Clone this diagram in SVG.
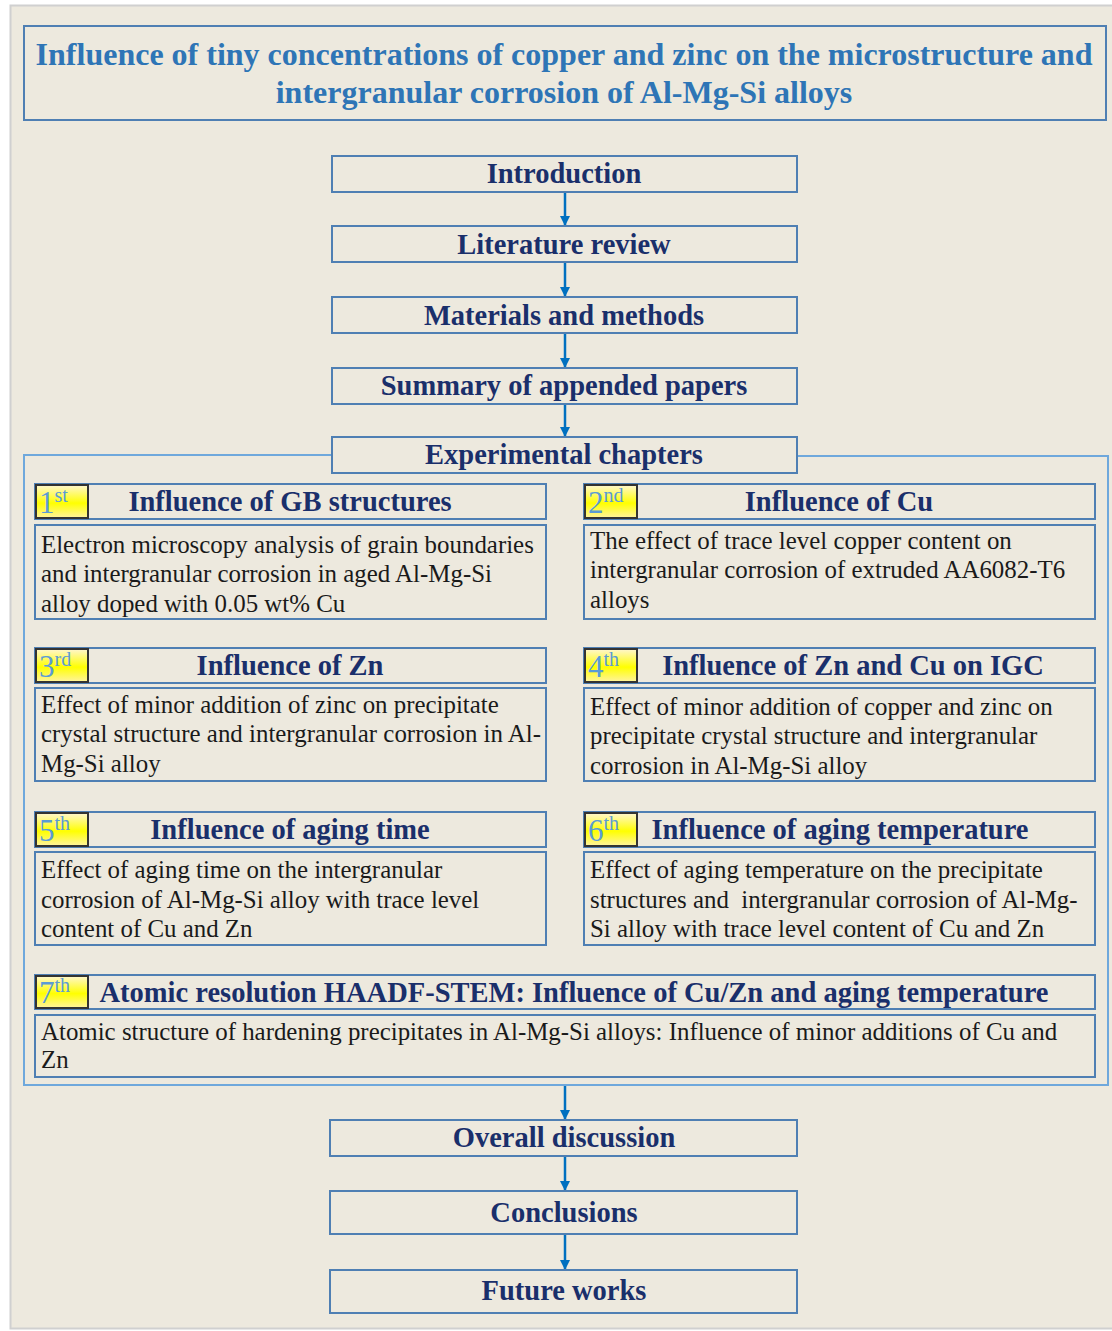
<svg xmlns="http://www.w3.org/2000/svg" width="1112" height="1331" viewBox="0 0 1112 1331" font-family="Liberation Serif, Times New Roman, serif">
<defs>
<style>
.box{fill:none;stroke:#4F7FB3;stroke-width:2}
.frame{fill:none;stroke:#6FA8DC;stroke-width:2}
.title{font-weight:bold;font-size:32px;fill:#2E75B6;text-anchor:middle}
.hd{font-weight:bold;font-size:28.5px;fill:#1A2F6B;text-anchor:middle}
.body{font-size:24.9px;fill:#1a1a1a}
.badge{fill:url(#yg);stroke:#333;stroke-width:2}
.num{font-size:31px;fill:#5B9BD5}
.sup{font-size:20px}
.conn{stroke:#0070C0;stroke-width:2.5;fill:none;marker-end:url(#ah)}
</style>
<linearGradient id="yg" x1="0" y1="0" x2="0" y2="1">
<stop offset="0" stop-color="#FFF6D0"/>
<stop offset="0.55" stop-color="#FFFF00"/>
<stop offset="1" stop-color="#FFF3A0"/>
</linearGradient>
<marker id="ah" markerWidth="10" markerHeight="10" refX="9" refY="5" orient="auto" markerUnits="userSpaceOnUse">
<path d="M0,0 L10,5 L0,10 Z" fill="#0070C0"/>
</marker>
</defs>
<rect x="0" y="0" width="1112" height="1331" fill="#FFFFFF"/>
<rect x="10.5" y="5.5" width="1105" height="1323" fill="#EDE9DE" stroke="#D0D0D0" stroke-width="2"/>

<g id="title">
<rect class="box" x="24" y="26" width="1082" height="94"/>
<text class="title" x="564" y="65">Influence of tiny concentrations of copper and zinc on the microstructure and</text>
<text class="title" x="564" y="103">intergranular corrosion of Al-Mg-Si alloys</text>
</g>

<g id="connectors">
<line class="conn" x1="565" y1="193" x2="565" y2="225"/>
<line class="conn" x1="565" y1="263" x2="565" y2="296"/>
<line class="conn" x1="565" y1="334" x2="565" y2="367"/>
<line class="conn" x1="565" y1="405" x2="565" y2="436"/>
<line class="conn" x1="565" y1="1086" x2="565" y2="1119"/>
<line class="conn" x1="565" y1="1157" x2="565" y2="1190"/>
<line class="conn" x1="565" y1="1235" x2="565" y2="1269"/>
</g>

<g id="introduction">
<rect class="box" x="332" y="156" width="465" height="36"/>
<text class="hd" x="564" y="183">Introduction</text>
</g>
<g id="literature-review">
<rect class="box" x="332" y="226" width="465" height="36"/>
<text class="hd" x="564" y="254">Literature review</text>
</g>
<g id="materials-methods">
<rect class="box" x="332" y="297" width="465" height="36"/>
<text class="hd" x="564" y="325">Materials and methods</text>
</g>
<g id="summary">
<rect class="box" x="332" y="368" width="465" height="36"/>
<text class="hd" x="564" y="395">Summary of appended papers</text>
</g>

<g id="experimental-frame">
<path class="frame" d="M332,455 L24,455 L24,1085 L1108,1085 L1108,456 L797,456"/>
</g>
<g id="experimental-chapters">
<rect class="box" x="332" y="437" width="465" height="36" fill="#EDE9DE"/>
<text class="hd" x="564" y="464">Experimental chapters</text>
</g>

<g id="ch1">
<rect class="box" x="35" y="484" width="511" height="35"/>
<rect class="badge" x="36" y="485" width="52" height="33"/>
<text class="num" x="39" y="513">1<tspan class="sup" dy="-11">st</tspan></text>
<text class="hd" x="290" y="511">Influence of GB structures</text>
<rect class="box" x="35" y="525" width="511" height="94"/>
<text class="body" x="41" y="553">Electron microscopy analysis of grain boundaries</text>
<text class="body" x="41" y="582">and intergranular corrosion in aged Al-Mg-Si</text>
<text class="body" x="41" y="612">alloy doped with 0.05 wt% Cu</text>
</g>

<g id="ch2">
<rect class="box" x="584" y="484" width="511" height="35"/>
<rect class="badge" x="585" y="485" width="52" height="33"/>
<text class="num" x="588" y="513">2<tspan class="sup" dy="-11">nd</tspan></text>
<text class="hd" x="839" y="511">Influence of Cu</text>
<rect class="box" x="584" y="525" width="511" height="94"/>
<text class="body" x="590" y="549">The effect of trace level copper content on</text>
<text class="body" x="590" y="578">intergranular corrosion of extruded AA6082-T6</text>
<text class="body" x="590" y="608">alloys</text>
</g>

<g id="ch3">
<rect class="box" x="35" y="648" width="511" height="35"/>
<rect class="badge" x="36" y="649" width="52" height="33"/>
<text class="num" x="39" y="677">3<tspan class="sup" dy="-11">rd</tspan></text>
<text class="hd" x="290" y="675">Influence of Zn</text>
<rect class="box" x="35" y="688" width="511" height="93"/>
<text class="body" x="41" y="713">Effect of minor addition of zinc on precipitate</text>
<text class="body" x="41" y="742">crystal structure and intergranular corrosion in Al-</text>
<text class="body" x="41" y="772">Mg-Si alloy</text>
</g>

<g id="ch4">
<rect class="box" x="584" y="648" width="511" height="35"/>
<rect class="badge" x="585" y="649" width="52" height="33"/>
<text class="num" x="588" y="677">4<tspan class="sup" dy="-11">th</tspan></text>
<text class="hd" x="853" y="675">Influence of Zn and Cu on IGC</text>
<rect class="box" x="584" y="688" width="511" height="93"/>
<text class="body" x="590" y="715">Effect of minor addition of copper and zinc on</text>
<text class="body" x="590" y="744">precipitate crystal structure and intergranular</text>
<text class="body" x="590" y="774">corrosion in Al-Mg-Si alloy</text>
</g>

<g id="ch5">
<rect class="box" x="35" y="812" width="511" height="35"/>
<rect class="badge" x="36" y="813" width="52" height="33"/>
<text class="num" x="39" y="841">5<tspan class="sup" dy="-11">th</tspan></text>
<text class="hd" x="290" y="839">Influence of aging time</text>
<rect class="box" x="35" y="852" width="511" height="93"/>
<text class="body" x="41" y="878">Effect of aging time on the intergranular</text>
<text class="body" x="41" y="908">corrosion of Al-Mg-Si alloy with trace level</text>
<text class="body" x="41" y="937">content of Cu and Zn</text>
</g>

<g id="ch6">
<rect class="box" x="584" y="812" width="511" height="35"/>
<rect class="badge" x="585" y="813" width="52" height="33"/>
<text class="num" x="588" y="841">6<tspan class="sup" dy="-11">th</tspan></text>
<text class="hd" x="840" y="839">Influence of aging temperature</text>
<rect class="box" x="584" y="852" width="511" height="93"/>
<text class="body" x="590" y="878">Effect of aging temperature on the precipitate</text>
<text class="body" x="590" y="908" xml:space="preserve">structures and  intergranular corrosion of Al-Mg-</text>
<text class="body" x="590" y="937">Si alloy with trace level content of Cu and Zn</text>
</g>

<g id="ch7">
<rect class="box" x="35" y="975" width="1060" height="34"/>
<rect class="badge" x="36" y="976" width="52" height="32"/>
<text class="num" x="39" y="1003">7<tspan class="sup" dy="-11">th</tspan></text>
<text class="hd" x="574" y="1002">Atomic resolution HAADF-STEM: Influence of Cu/Zn and aging temperature</text>
<rect class="box" x="35" y="1015" width="1060" height="62"/>
<text class="body" x="41" y="1040">Atomic structure of hardening precipitates in Al-Mg-Si alloys: Influence of minor additions of Cu and</text>
<text class="body" x="41" y="1068">Zn</text>
</g>

<g id="overall-discussion">
<rect class="box" x="330" y="1120" width="467" height="36"/>
<text class="hd" x="564" y="1147">Overall discussion</text>
</g>
<g id="conclusions">
<rect class="box" x="330" y="1191" width="467" height="43"/>
<text class="hd" x="564" y="1222">Conclusions</text>
</g>
<g id="future-works">
<rect class="box" x="330" y="1270" width="467" height="43"/>
<text class="hd" x="564" y="1300">Future works</text>
</g>
</svg>
